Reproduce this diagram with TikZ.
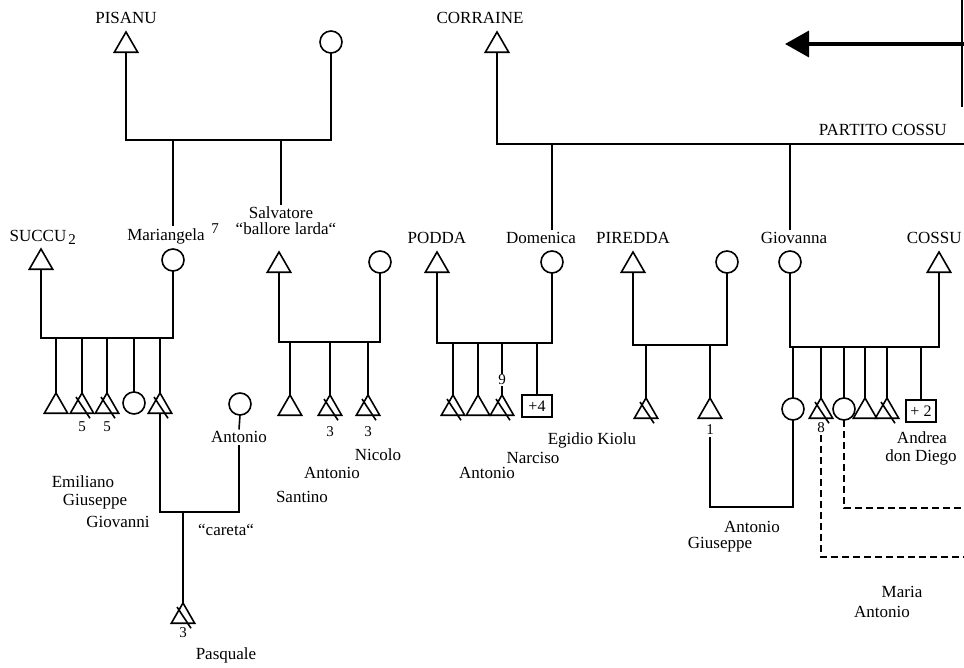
\documentclass[tikz,border=0pt]{standalone}
\usepackage{fontspec}
\setmainfont{Liberation Serif}
\usetikzlibrary{shapes.geometric,arrows.meta,calc}
\begin{document}
\begin{tikzpicture}[x=1pt,y=-1pt,
  line width=1.6pt,
  male/.style={regular polygon, regular polygon sides=3, draw, minimum size=27pt, inner sep=0pt, outer sep=0pt, anchor=north},
  female/.style={circle, draw, minimum size=22pt, inner sep=0pt, outer sep=0pt},
  countbox/.style={rectangle, draw, minimum width=30pt, minimum height=22pt, inner sep=1pt, outer sep=0pt, anchor=north, font=\fontsize{16}{16}\selectfont},
  lbl/.style={inner sep=1pt, font=\fontsize{17}{17}\selectfont},
  num/.style={inner sep=1pt, font=\fontsize{15}{15}\selectfont},
  adopt/.style={line width=1.6pt, dash pattern=on 7pt off 4pt},
]
\useasboundingbox (0,0) rectangle (964,668);
\clip (0,0) rectangle (964,668);

% ---------- level coordinates ----------
\coordinate (pisM) at (0,140);
\coordinate (corM) at (0,144);
\coordinate (corR) at (964,144);
\coordinate (sucM) at (0,338);
\coordinate (salM) at (0,342);
\coordinate (podM) at (0,343);
\coordinate (pirM) at (0,345);
\coordinate (cosM) at (0,347);
\coordinate (carM) at (0,512);
\coordinate (pgM) at (0,507);
\coordinate (dA) at (964,508);
\coordinate (dB) at (964,557);
\coordinate (arrS) at (964,44);
\coordinate (arrE) at (785,44);
\coordinate (rT) at (962,0);
\coordinate (rB) at (962,107);

% ---------- top generation ----------
\node[lbl] (lPis) at (126,18) {PISANU};
\node[male] (pis) at (126,32) {};
\node[female] (pisw) at (331,42) {};
\node[lbl] (lCor) at (480,18) {CORRAINE};
\node[male] (cor) at (497,32) {};
\node[lbl, anchor=west] (lPart) at (817,130) {PARTITO COSSU};

\draw[line width=3.5pt, -{Triangle[length=24pt,width=26pt]}] (arrS) -- (arrE);
\draw (rT) -- (rB);

% ---------- second generation ----------
\node[lbl] (lSuc) at (38,236) {SUCCU};
\node[num] (n2s) at (72,240) {2};
\node[male] (succ) at (41,249) {};
\node[lbl] (lMar) at (166,236) {Mariangela};
\node[num] (n7) at (215,229) {7};
\node[female] (mar) at (173,260) {};

\node[lbl] (lSal1) at (281,213) {Salvatore};
\node[lbl] (lSal2) at (286,229) {“ballore larda“};
\node[male] (sal) at (279,252) {};
\node[female] (salw) at (380,262) {};

\node[lbl] (lPod) at (437,238) {PODDA};
\node[male] (pod) at (437,252) {};
\node[lbl] (lDom) at (541,238) {Domenica};
\node[female] (dom) at (552,262) {};

\node[lbl] (lPir) at (633,238) {PIREDDA};
\node[male] (pir) at (633,252) {};
\node[female] (pirw) at (727,262) {};

\node[lbl] (lGio) at (794,238) {Giovanna};
\node[female] (giov) at (790,262) {};
\node[lbl, anchor=west] (lCos) at (905,238) {COSSU};
\node[male] (cos) at (939,252) {};

% marriages top
\draw (pis.south) -- (pis.south |- pisM) -- (pisw.south |- pisM) -- (pisw.south);
\draw (cor.south) -- (cor.south |- corM) -- (corR);
% descent to second generation
\draw (mar.center |- pisM) -- (mar.center |- lMar.north);
\draw (lSal1.north |- pisM) -- (lSal1.north);
\draw (dom.center |- corM) -- (dom.center |- lDom.north);
\draw (giov.center |- corM) -- (giov.center |- lGio.north);

% marriages second generation
\draw (succ.south) -- (succ.south |- sucM) -- (mar.south |- sucM) -- (mar.south);
\draw (sal.south) -- (sal.south |- salM) -- (salw.south |- salM) -- (salw.south);
\draw (pod.south) -- (pod.south |- podM) -- (dom.south |- podM) -- (dom.south);
\draw (pir.south) -- (pir.south |- pirM) -- (pirw.south |- pirM) -- (pirw.south);
\draw (giov.south) -- (giov.south |- cosM) -- (cos.south |- cosM) -- (cos.south);

% ---------- third generation ----------
% Succu x Mariangela
\node[male] (s1) at (56,393) {};
\node[male] (s2) at (82,393) {};
\node[male] (s3) at (107,393) {};
\node[female] (s4) at (134,403) {};
\node[male] (s5) at (160,393) {};
\foreach \c in {s1,s2,s3,s4,s5} \draw (\c.north |- sucM) -- (\c.north);
\node[num] (n5a) at (82,427) {5};
\node[num] (n5b) at (107,427) {5};

\node[female] (antc) at (240,404) {};
\node[lbl] (lAnt) at (239,437) {Antonio};
\draw (antc.south) -- (lAnt.north);

% Salvatore
\node[male] (a1) at (290,395) {};
\node[male] (a2) at (330,395) {};
\node[male] (a3) at (368,395) {};
\foreach \c in {a1,a2,a3} \draw (\c.north |- salM) -- (\c.north);
\node[num] (n3a) at (330,432) {3};
\node[num] (n3b) at (368,432) {3};

% Podda
\node[male] (p1) at (453,395) {};
\node[male] (p2) at (478,395) {};
\node[male] (p3) at (502,395) {};
\node[countbox] (p4) at (537,395) {+4};
\foreach \c in {p1,p2,p3,p4} \draw (\c.north |- podM) -- (\c.north);
\node[num, fill=white] (n9) at (502,380) {9};

% Piredda
\node[male] (r1) at (646,398) {};
\node[male] (r2) at (710,398) {};
\foreach \c in {r1,r2} \draw (\c.north |- pirM) -- (\c.north);
\node[num] (n1) at (710,430) {1};

% Giovanna x Cossu
\node[female] (g1) at (793,409) {};
\node[male] (g2) at (821,398) {};
\node[female] (g3) at (844,409) {};
\node[male] (g4) at (865,398) {};
\node[male] (g5) at (887,398) {};
\node[countbox] (g6) at (921,400) {+ 2};
\foreach \c in {g1,g2,g3,g4,g5,g6} \draw (\c.north |- cosM) -- (\c.north);
\node[num] (n8) at (821,428) {8};

% ---------- fourth generation ----------
\node[male] (pq) at (183,603) {};
\draw (s5.south) -- (s5.south |- carM) -- (lAnt.south |- carM) -- (lAnt.south);
\draw (pq.north |- carM) -- (pq.north);
\node[num] (n3p) at (183,633) {3};

\draw (n1.south) -- (n1.south |- pgM) -- (g1.south |- pgM) -- (g1.south);

\draw[adopt] (g3.south) -- (g3.south |- dA) -- (dA);
\draw[adopt] (n8.south) -- (n8.south |- dB) -- (dB);

% slashes for deceased
\foreach \c in {s2,s3,s5,a2,a3,p1,p3,r1,g2,g5,pq}
  \draw ($(\c.north)+(-6pt,-4pt)$) -- ($(\c.south)+(8pt,-5pt)$);

% ---------- name labels ----------
\node[lbl] (lEmi) at (83,482) {Emiliano};
\node[lbl] (lGiu1) at (95,502) {Giuseppe};
\node[lbl] (lGvn) at (118,522) {Giovanni};
\node[lbl] (lCar) at (226,530) {“careta“};
\node[lbl] (lPas) at (226,655) {Pasquale};

\node[lbl] (lNic) at (378,455) {Nicolo};
\node[lbl] (lAnt2) at (332,473) {Antonio};
\node[lbl] (lSan) at (302,497) {Santino};

\node[lbl] (lEgi) at (592,440) {Egidio Kiolu};
\node[lbl] (lNar) at (533,458) {Narciso};
\node[lbl] (lAnt3) at (487,473) {Antonio};

\node[lbl] (lAnt4) at (752,527) {Antonio};
\node[lbl] (lGiu2) at (720,545) {Giuseppe};

\node[lbl] (lAnd) at (922,438) {Andrea};
\node[lbl] (lDie) at (921,457) {don Diego};

\node[lbl] (lMaria) at (902,592) {Maria};
\node[lbl] (lAnt5) at (882,612) {Antonio};
\end{tikzpicture}
\end{document}
